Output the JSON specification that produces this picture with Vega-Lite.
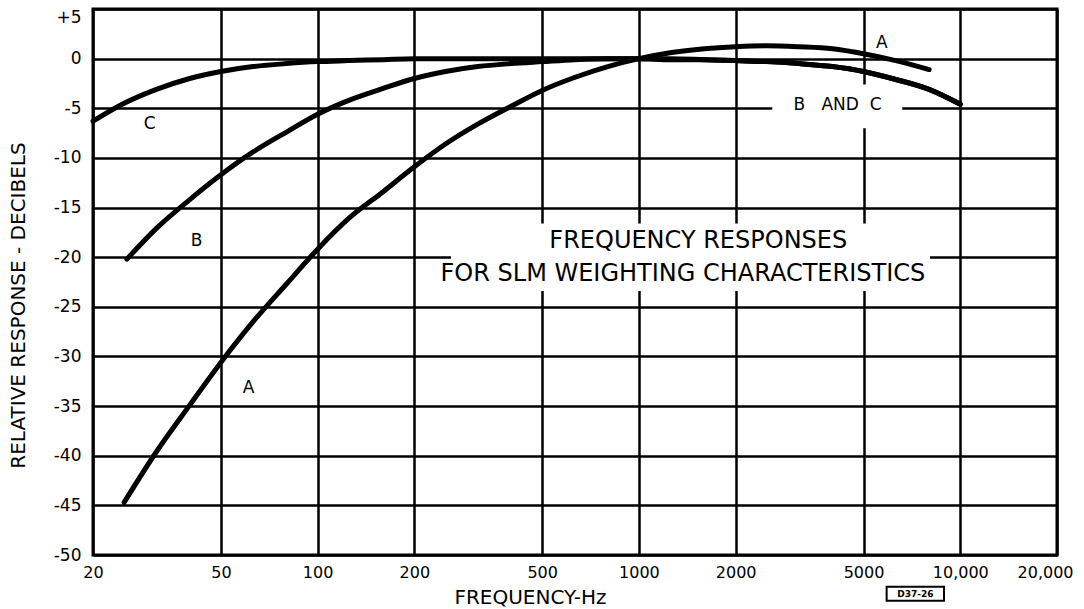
{
  "$schema": "https://vega.github.io/schema/vega-lite/v6.json",
  "width": 964,
  "height": 546,
  "autosize": {"type": "none"},
  "padding": {"left": 93, "top": 9, "right": 27, "bottom": 54},
  "background": "white",
  "config": {
    "view": {"stroke": "black", "strokeWidth": 3},
    "font": "DejaVu Sans"
  },
  "datasets": {
    "curves": [
      {"curve": "A", "f": 25, "db": -44.7},
      {"curve": "A", "f": 31.5, "db": -39.6},
      {"curve": "A", "f": 40, "db": -34.9},
      {"curve": "A", "f": 50, "db": -30.6},
      {"curve": "A", "f": 63, "db": -26.5},
      {"curve": "A", "f": 80, "db": -22.7},
      {"curve": "A", "f": 100, "db": -19.2},
      {"curve": "A", "f": 125, "db": -16.1},
      {"curve": "A", "f": 160, "db": -13.4},
      {"curve": "A", "f": 200, "db": -10.9},
      {"curve": "A", "f": 250, "db": -8.6},
      {"curve": "A", "f": 315, "db": -6.6},
      {"curve": "A", "f": 400, "db": -4.8},
      {"curve": "A", "f": 500, "db": -3.2},
      {"curve": "A", "f": 630, "db": -1.9},
      {"curve": "A", "f": 800, "db": -0.8},
      {"curve": "A", "f": 1000, "db": 0},
      {"curve": "A", "f": 1250, "db": 0.6},
      {"curve": "A", "f": 1600, "db": 1.0},
      {"curve": "A", "f": 2000, "db": 1.2},
      {"curve": "A", "f": 2500, "db": 1.3},
      {"curve": "A", "f": 3150, "db": 1.2},
      {"curve": "A", "f": 4000, "db": 1.0},
      {"curve": "A", "f": 5000, "db": 0.5},
      {"curve": "A", "f": 6300, "db": -0.2},
      {"curve": "A", "f": 8000, "db": -1.1},
      {"curve": "B", "f": 25.5, "db": -20.2},
      {"curve": "B", "f": 31.5, "db": -17.1},
      {"curve": "B", "f": 40, "db": -14.2},
      {"curve": "B", "f": 50, "db": -11.7},
      {"curve": "B", "f": 63, "db": -9.4},
      {"curve": "B", "f": 80, "db": -7.4},
      {"curve": "B", "f": 100, "db": -5.6},
      {"curve": "B", "f": 125, "db": -4.2},
      {"curve": "B", "f": 160, "db": -3.0},
      {"curve": "B", "f": 200, "db": -2.0},
      {"curve": "B", "f": 250, "db": -1.3},
      {"curve": "B", "f": 315, "db": -0.8},
      {"curve": "B", "f": 400, "db": -0.5},
      {"curve": "B", "f": 500, "db": -0.3},
      {"curve": "B", "f": 630, "db": -0.1},
      {"curve": "B", "f": 800, "db": 0},
      {"curve": "B", "f": 1000, "db": 0},
      {"curve": "B", "f": 1250, "db": 0},
      {"curve": "B", "f": 1600, "db": -0.1},
      {"curve": "B", "f": 2000, "db": -0.2},
      {"curve": "B", "f": 2500, "db": -0.3},
      {"curve": "B", "f": 3150, "db": -0.5},
      {"curve": "B", "f": 4000, "db": -0.8},
      {"curve": "B", "f": 5000, "db": -1.3},
      {"curve": "B", "f": 6300, "db": -2.1},
      {"curve": "B", "f": 8000, "db": -3.1},
      {"curve": "B", "f": 10000, "db": -4.6},
      {"curve": "C", "f": 20, "db": -6.3},
      {"curve": "C", "f": 25, "db": -4.5},
      {"curve": "C", "f": 31.5, "db": -3.1},
      {"curve": "C", "f": 40, "db": -2.0},
      {"curve": "C", "f": 50, "db": -1.3},
      {"curve": "C", "f": 63, "db": -0.8},
      {"curve": "C", "f": 80, "db": -0.5},
      {"curve": "C", "f": 100, "db": -0.3},
      {"curve": "C", "f": 125, "db": -0.2},
      {"curve": "C", "f": 160, "db": -0.1},
      {"curve": "C", "f": 200, "db": 0},
      {"curve": "C", "f": 500, "db": 0},
      {"curve": "C", "f": 1000, "db": 0},
      {"curve": "C", "f": 1250, "db": -0.1},
      {"curve": "C", "f": 1600, "db": -0.1},
      {"curve": "C", "f": 2000, "db": -0.2},
      {"curve": "C", "f": 2500, "db": -0.3},
      {"curve": "C", "f": 3150, "db": -0.5},
      {"curve": "C", "f": 4000, "db": -0.8},
      {"curve": "C", "f": 5000, "db": -1.3},
      {"curve": "C", "f": 6300, "db": -2.1},
      {"curve": "C", "f": 8000, "db": -3.1},
      {"curve": "C", "f": 10000, "db": -4.6}
    ],
    "blanks": [
      {"f": 260, "f2": 8050, "db": -16.6, "db2": -23.4},
      {"f": 2600, "f2": 6600, "db": -2.6, "db2": -7.0}
    ],
    "curveLabels": [
      {"label": "A", "f": 5700, "db": 1.6},
      {"label": "B\u00a0\u00a0\u00a0AND\u00a0\u00a0C", "f": 4150, "db": -4.7},
      {"label": "C", "f": 30, "db": -6.6},
      {"label": "B", "f": 42, "db": -18.4},
      {"label": "A", "f": 61, "db": -33.2}
    ],
    "heading": [
      {"label": "FREQUENCY RESPONSES", "f": 1530, "db": -18.4},
      {"label": "FOR SLM WEIGHTING CHARACTERISTICS", "f": 1370, "db": -21.7}
    ],
    "stamp": [
      {"label": "D37-26", "f": 5900, "f2": 8900, "db": -53.2, "db2": -54.6, "fm": 7250, "dbm": -53.9}
    ]
  },
  "layer": [
    {
      "data": {"name": "blanks"},
      "mark": {"type": "rect", "fill": "white", "stroke": null},
      "encoding": {
        "x": {
          "field": "f", "type": "quantitative",
          "scale": {"type": "log", "domain": [20, 20000], "nice": false},
          "axis": {
            "values": [20, 50, 100, 200, 500, 1000, 2000, 5000, 10000, 20000],
            "grid": true, "gridColor": "#000", "gridWidth": 2.5,
            "domain": false, "ticks": false,
            "labelExpr": "datum.value >= 10000 ? format(datum.value, ',') : '' + datum.value",
            "labelFont": "DejaVu Sans", "labelFontSize": 16, "labelColor": "#000",
            "labelPadding": 9, "labelFlush": false, "labelOverlap": false,
            "labelOffset": {"condition": {"test": "datum.value == 20000", "value": -12}, "value": 0},
            "title": "FREQUENCY-Hz", "titleFont": "DejaVu Sans", "titleFontSize": 20,
            "titleFontWeight": "normal", "titleColor": "#000",
            "titleX": 437, "titleY": 42, "titleAlign": "center", "titleBaseline": "middle"
          }
        },
        "x2": {"field": "f2"},
        "y": {
          "field": "db", "type": "quantitative",
          "scale": {"domain": [-50, 5], "nice": false, "zero": false},
          "axis": {
            "values": [5, 0, -5, -10, -15, -20, -25, -30, -35, -40, -45, -50],
            "grid": true, "gridColor": "#000", "gridWidth": 2.5,
            "domain": false, "ticks": false,
            "labelExpr": "datum.value > 0 ? '+' + datum.value : '' + datum.value",
            "labelFont": "DejaVu Sans", "labelFontSize": 17, "labelColor": "#000",
            "labelPadding": 12,
            "labelBaseline": {"condition": {"test": "datum.value == 5", "value": "top"}, "value": "middle"},
            "labelOverlap": false,
            "title": "RELATIVE RESPONSE - DECIBELS", "titleFont": "DejaVu Sans", "titleFontSize": 20,
            "titleFontWeight": "normal", "titleColor": "#000",
            "titleAngle": -90, "titleX": -75, "titleY": 296, "titleAlign": "center", "titleBaseline": "middle"
          }
        },
        "y2": {"field": "db2"}
      }
    },
    {
      "data": {"name": "curves"},
      "mark": {"type": "line", "color": "#000", "strokeWidth": 5, "strokeCap": "round", "strokeJoin": "round", "interpolate": "monotone"},
      "encoding": {
        "x": {"field": "f", "type": "quantitative", "scale": {"type": "log", "domain": [20, 20000], "nice": false}},
        "y": {"field": "db", "type": "quantitative", "scale": {"domain": [-50, 5], "nice": false, "zero": false}},
        "detail": {"field": "curve"}
      }
    },
    {
      "data": {"name": "curveLabels"},
      "mark": {"type": "text", "font": "DejaVu Sans", "fontSize": 17, "color": "#000", "align": "center", "baseline": "middle"},
      "encoding": {
        "x": {"field": "f", "type": "quantitative", "scale": {"type": "log", "domain": [20, 20000], "nice": false}},
        "y": {"field": "db", "type": "quantitative", "scale": {"domain": [-50, 5], "nice": false, "zero": false}},
        "text": {"field": "label"}
      }
    },
    {
      "data": {"name": "heading"},
      "mark": {"type": "text", "font": "DejaVu Sans", "fontSize": 24, "color": "#000", "align": "center", "baseline": "middle"},
      "encoding": {
        "x": {"field": "f", "type": "quantitative", "scale": {"type": "log", "domain": [20, 20000], "nice": false}},
        "y": {"field": "db", "type": "quantitative", "scale": {"domain": [-50, 5], "nice": false, "zero": false}},
        "text": {"field": "label"}
      }
    },
    {
      "data": {"name": "stamp"},
      "mark": {"type": "rect", "fill": "white", "stroke": "#000", "strokeWidth": 2, "clip": false},
      "encoding": {
        "x": {"field": "f", "type": "quantitative", "scale": {"type": "log", "domain": [20, 20000], "nice": false}},
        "x2": {"field": "f2"},
        "y": {"field": "db", "type": "quantitative", "scale": {"domain": [-50, 5], "nice": false, "zero": false}},
        "y2": {"field": "db2"}
      }
    },
    {
      "data": {"name": "stamp"},
      "mark": {"type": "text", "font": "DejaVu Sans", "fontSize": 9, "fontWeight": "bold", "color": "#000", "align": "center", "baseline": "middle"},
      "encoding": {
        "x": {"field": "fm", "type": "quantitative", "scale": {"type": "log", "domain": [20, 20000], "nice": false}},
        "y": {"field": "dbm", "type": "quantitative", "scale": {"domain": [-50, 5], "nice": false, "zero": false}},
        "text": {"field": "label"}
      }
    }
  ]
}
